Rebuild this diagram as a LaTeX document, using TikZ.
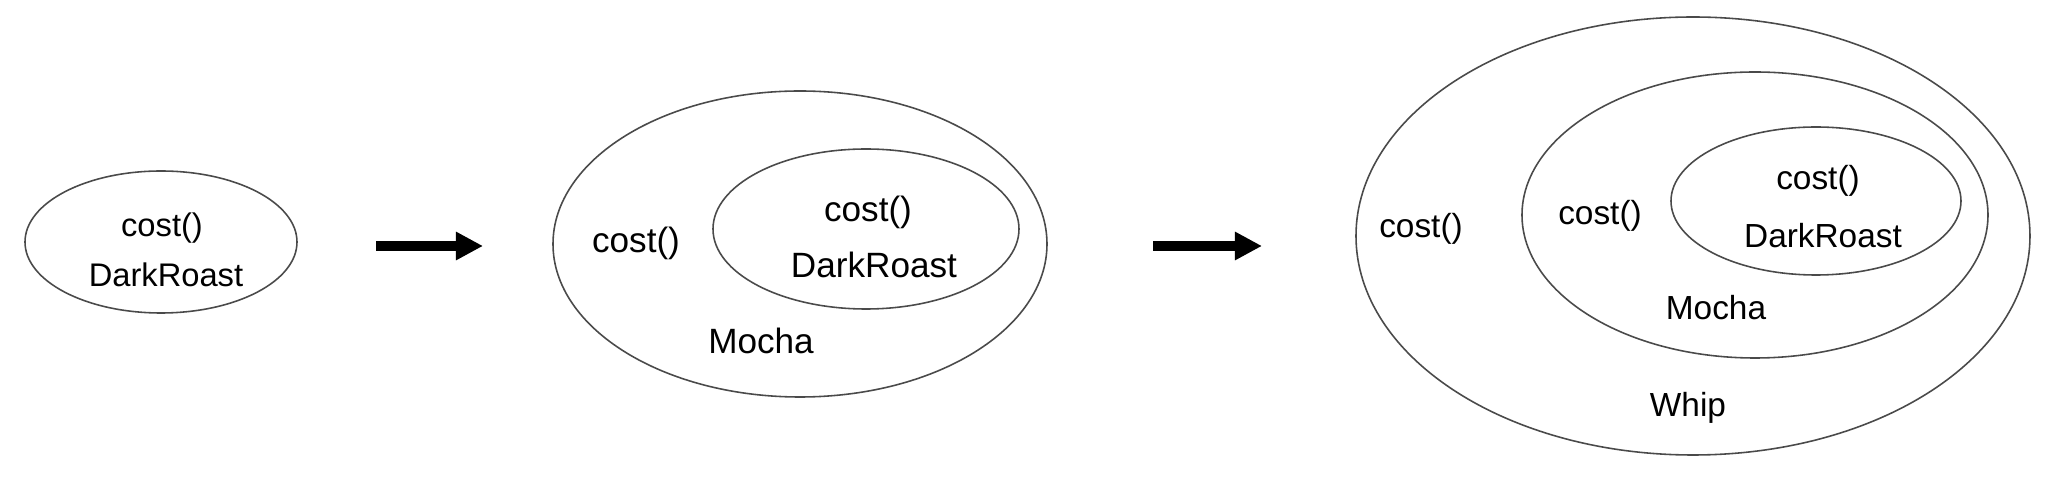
\documentclass[tikz,border=0pt]{standalone}
\usepackage{fontspec}
\setmainfont{Liberation Sans}
\usetikzlibrary{positioning, arrows.meta, shapes.geometric}
\definecolor{ringline}{HTML}{4A4A4A}

\begin{document}
\begin{tikzpicture}[
    % --- Global Settings ---
    % one unit is one pixel of the reference, y runs downwards
    x=0.1mm, y=-0.1mm,
    every node/.style={font=\fontsize{9.5}{11}\selectfont, anchor=base}
  ]

  % --- Style Definitions ---
  \tikzset{
    % Style for the wrapper rings (thin ellipse outline, no text)
    ring/.style={
      ellipse,
      draw=ringline,
      line width=0.45pt,
      inner sep=0pt,
      anchor=center
    },
    % Text sizes of the three stages
    small/.style={font=\fontsize{9.3}{11}\selectfont},
    large/.style={font=\fontsize{10}{12}\selectfont},
    % Style for the thick arrows between the stages
    fatarrow/.style={
      -{Triangle[length=7.7pt, width=7.6pt]},
      line width=2.6pt
    }
  }

  \useasboundingbox (0,0) rectangle (2052,485);

  % --- Stage 1: DarkRoast alone ---
  \node[ring, minimum width=27.2mm, minimum height=14.2mm] (dr1) at (161,242) {};
  \node[small] (cost1) at (162,237) {cost()};
  \node[small] (name1) at (166,287) {DarkRoast};

  % --- Stage 2: DarkRoast wrapped by Mocha ---
  \node[ring, minimum width=49.4mm, minimum height=30.6mm] (mo2) at (800,244) {};
  \node[ring, minimum width=30.6mm, minimum height=16mm] (dr2) at (866,229) {};
  \node[large] (costm2) at (636,253) {cost()};
  \node[large] (costd2) at (868,222) {cost()};
  \node[large] (named2) at (874,278) {DarkRoast};
  \node[large] (namem2) at (761,354) {Mocha};

  % --- Stage 3: Mocha wrapped by Whip ---
  \node[ring, minimum width=67.4mm, minimum height=43.8mm] (wh3) at (1693,236) {};
  \node[ring, minimum width=46.6mm, minimum height=28.6mm] (mo3) at (1755,215) {};
  \node[ring, minimum width=29mm, minimum height=14.8mm] (dr3) at (1816,201) {};
  \node (costw3) at (1421,238) {cost()};
  \node (costm3) at (1600,225) {cost()};
  \node (costd3) at (1818,190) {cost()};
  \node (named3) at (1823,248) {DarkRoast};
  \node (namem3) at (1716,320) {Mocha};
  \node (namew3) at (1688,417) {Whip};

  % --- Arrows between the stages ---
  \coordinate (a1s) at (376,246);
  \coordinate (a1e) at (483,246);
  \coordinate (a2s) at (1153,246);
  \coordinate (a2e) at (1262,246);
  \draw[fatarrow] (a1s) -- (a1e);
  \draw[fatarrow] (a2s) -- (a2e);

\end{tikzpicture}
\end{document}
